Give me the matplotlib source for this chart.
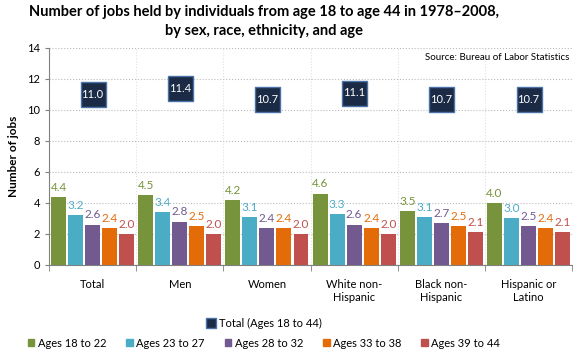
import numpy as np
import matplotlib
matplotlib.use("Agg")
import matplotlib.pyplot as plt
from matplotlib.lines import Line2D
from matplotlib.patches import Patch
from matplotlib.markers import MarkerStyle

plt.rcParams['font.family'] = ['Lato', 'DejaVu Sans']

groups = ["Total", "Men", "Women", "White non-\nHispanic", "Black non-\nHispanic", "Hispanic or\nLatino"]
series_names = ["Ages 18 to 22", "Ages 23 to 27", "Ages 28 to 32", "Ages 33 to 38", "Ages 39 to 44"]
ages_18_22 = [4.4, 4.5, 4.2, 4.6, 3.5, 4.0]
ages_23_27 = [3.2, 3.4, 3.1, 3.3, 3.1, 3.0]
ages_28_32 = [2.6, 2.8, 2.4, 2.6, 2.7, 2.5]
ages_33_38 = [2.4, 2.5, 2.4, 2.4, 2.5, 2.4]
ages_39_44 = [2.0, 2.0, 2.0, 2.0, 2.1, 2.1]
total_18_44 = [11.0, 11.4, 10.7, 11.1, 10.7, 10.7]

colors = ["#77933C", "#4BACC6", "#72598F", "#E36C09", "#C0504D"]
navy = "#1B2B45"
navy_edge = "#4A72A8"

fig = plt.figure(figsize=(5.8, 3.6), dpi=100)
ax = fig.add_axes([0.0845, 0.264, 0.902, 0.603])

x = np.arange(len(groups))
w = 0.172
stride = 0.195
all_series = [ages_18_22, ages_23_27, ages_28_32, ages_33_38, ages_39_44]
for i, vals in enumerate(all_series):
    xs = x + (i - 2) * stride
    ax.bar(xs, vals, width=w, color=colors[i], zorder=3)
    for xi, v in zip(xs, vals):
        ax.annotate("%.1f" % v, (xi, v), xytext=(0, 3), textcoords="offset points",
                    ha="center", va="bottom", fontsize=8.5, color=colors[i])

sq = MarkerStyle("s", joinstyle="miter")
ax.plot(x, total_18_44, ls="none", marker=sq, markersize=18, markerfacecolor=navy,
        markeredgecolor=navy_edge, markeredgewidth=1, zorder=4)
for xi, v in zip(x, total_18_44):
    ax.text(xi, v, "%.1f" % v, ha="center", va="center", color="white", fontsize=8, zorder=5)

ax.set_xlim(-0.5, len(groups) - 0.5)
ax.set_ylim(0, 14)
ax.set_yticks(range(0, 15, 2))
ax.set_xticks(x)
ax.set_xticklabels(groups, fontsize=8)
ax.tick_params(axis="x", length=0, pad=10)
ax.set_xticks(np.arange(-0.5, len(groups)), minor=True)
ax.tick_params(axis="x", which="minor", length=4, color="#808080", direction="out")
ax.tick_params(axis="y", labelsize=8, length=3, color="#808080")
ax.grid(axis="y", which="major", ls=":", color="#BBBBBB", lw=0.8, zorder=0)
ax.grid(axis="x", which="minor", ls=":", color="#E0E0E0", lw=0.8, zorder=0)
for s in ["top", "right"]:
    ax.spines[s].set_visible(False)
for s in ["left", "bottom"]:
    ax.spines[s].set_color("#808080")
ax.set_ylabel("Number of jobs", fontsize=8.5, fontweight="bold", labelpad=6)

ax.text(0.995, 0.975, "Source: Bureau of Labor Statistics", transform=ax.transAxes,
        ha="right", va="top", fontsize=7)

fig.suptitle("Number of jobs held by individuals from age 18 to age 44 in 1978\u20132008,\nby sex, race, ethnicity, and age",
             fontsize=10.5, fontweight="bold", y=0.985, x=0.455, linespacing=1.4)

h1 = [Line2D([], [], ls="none", marker=sq, markersize=7, markerfacecolor=navy,
             markeredgecolor=navy_edge)]
fig.legend(h1, ["Total (Ages 18 to 44)"], loc="center", bbox_to_anchor=(0.455, 0.102),
           frameon=False, fontsize=8, handlelength=0.8, handletextpad=0.3, borderpad=0)
h2 = [Patch(color=c) for c in colors]
fig.legend(h2, series_names, loc="center", bbox_to_anchor=(0.455, 0.047), ncol=5,
           frameon=False, fontsize=8, handlelength=0.6, handleheight=0.6,
           handletextpad=0.3, columnspacing=1.8, borderpad=0)

fig.savefig("out.png", dpi=100)
